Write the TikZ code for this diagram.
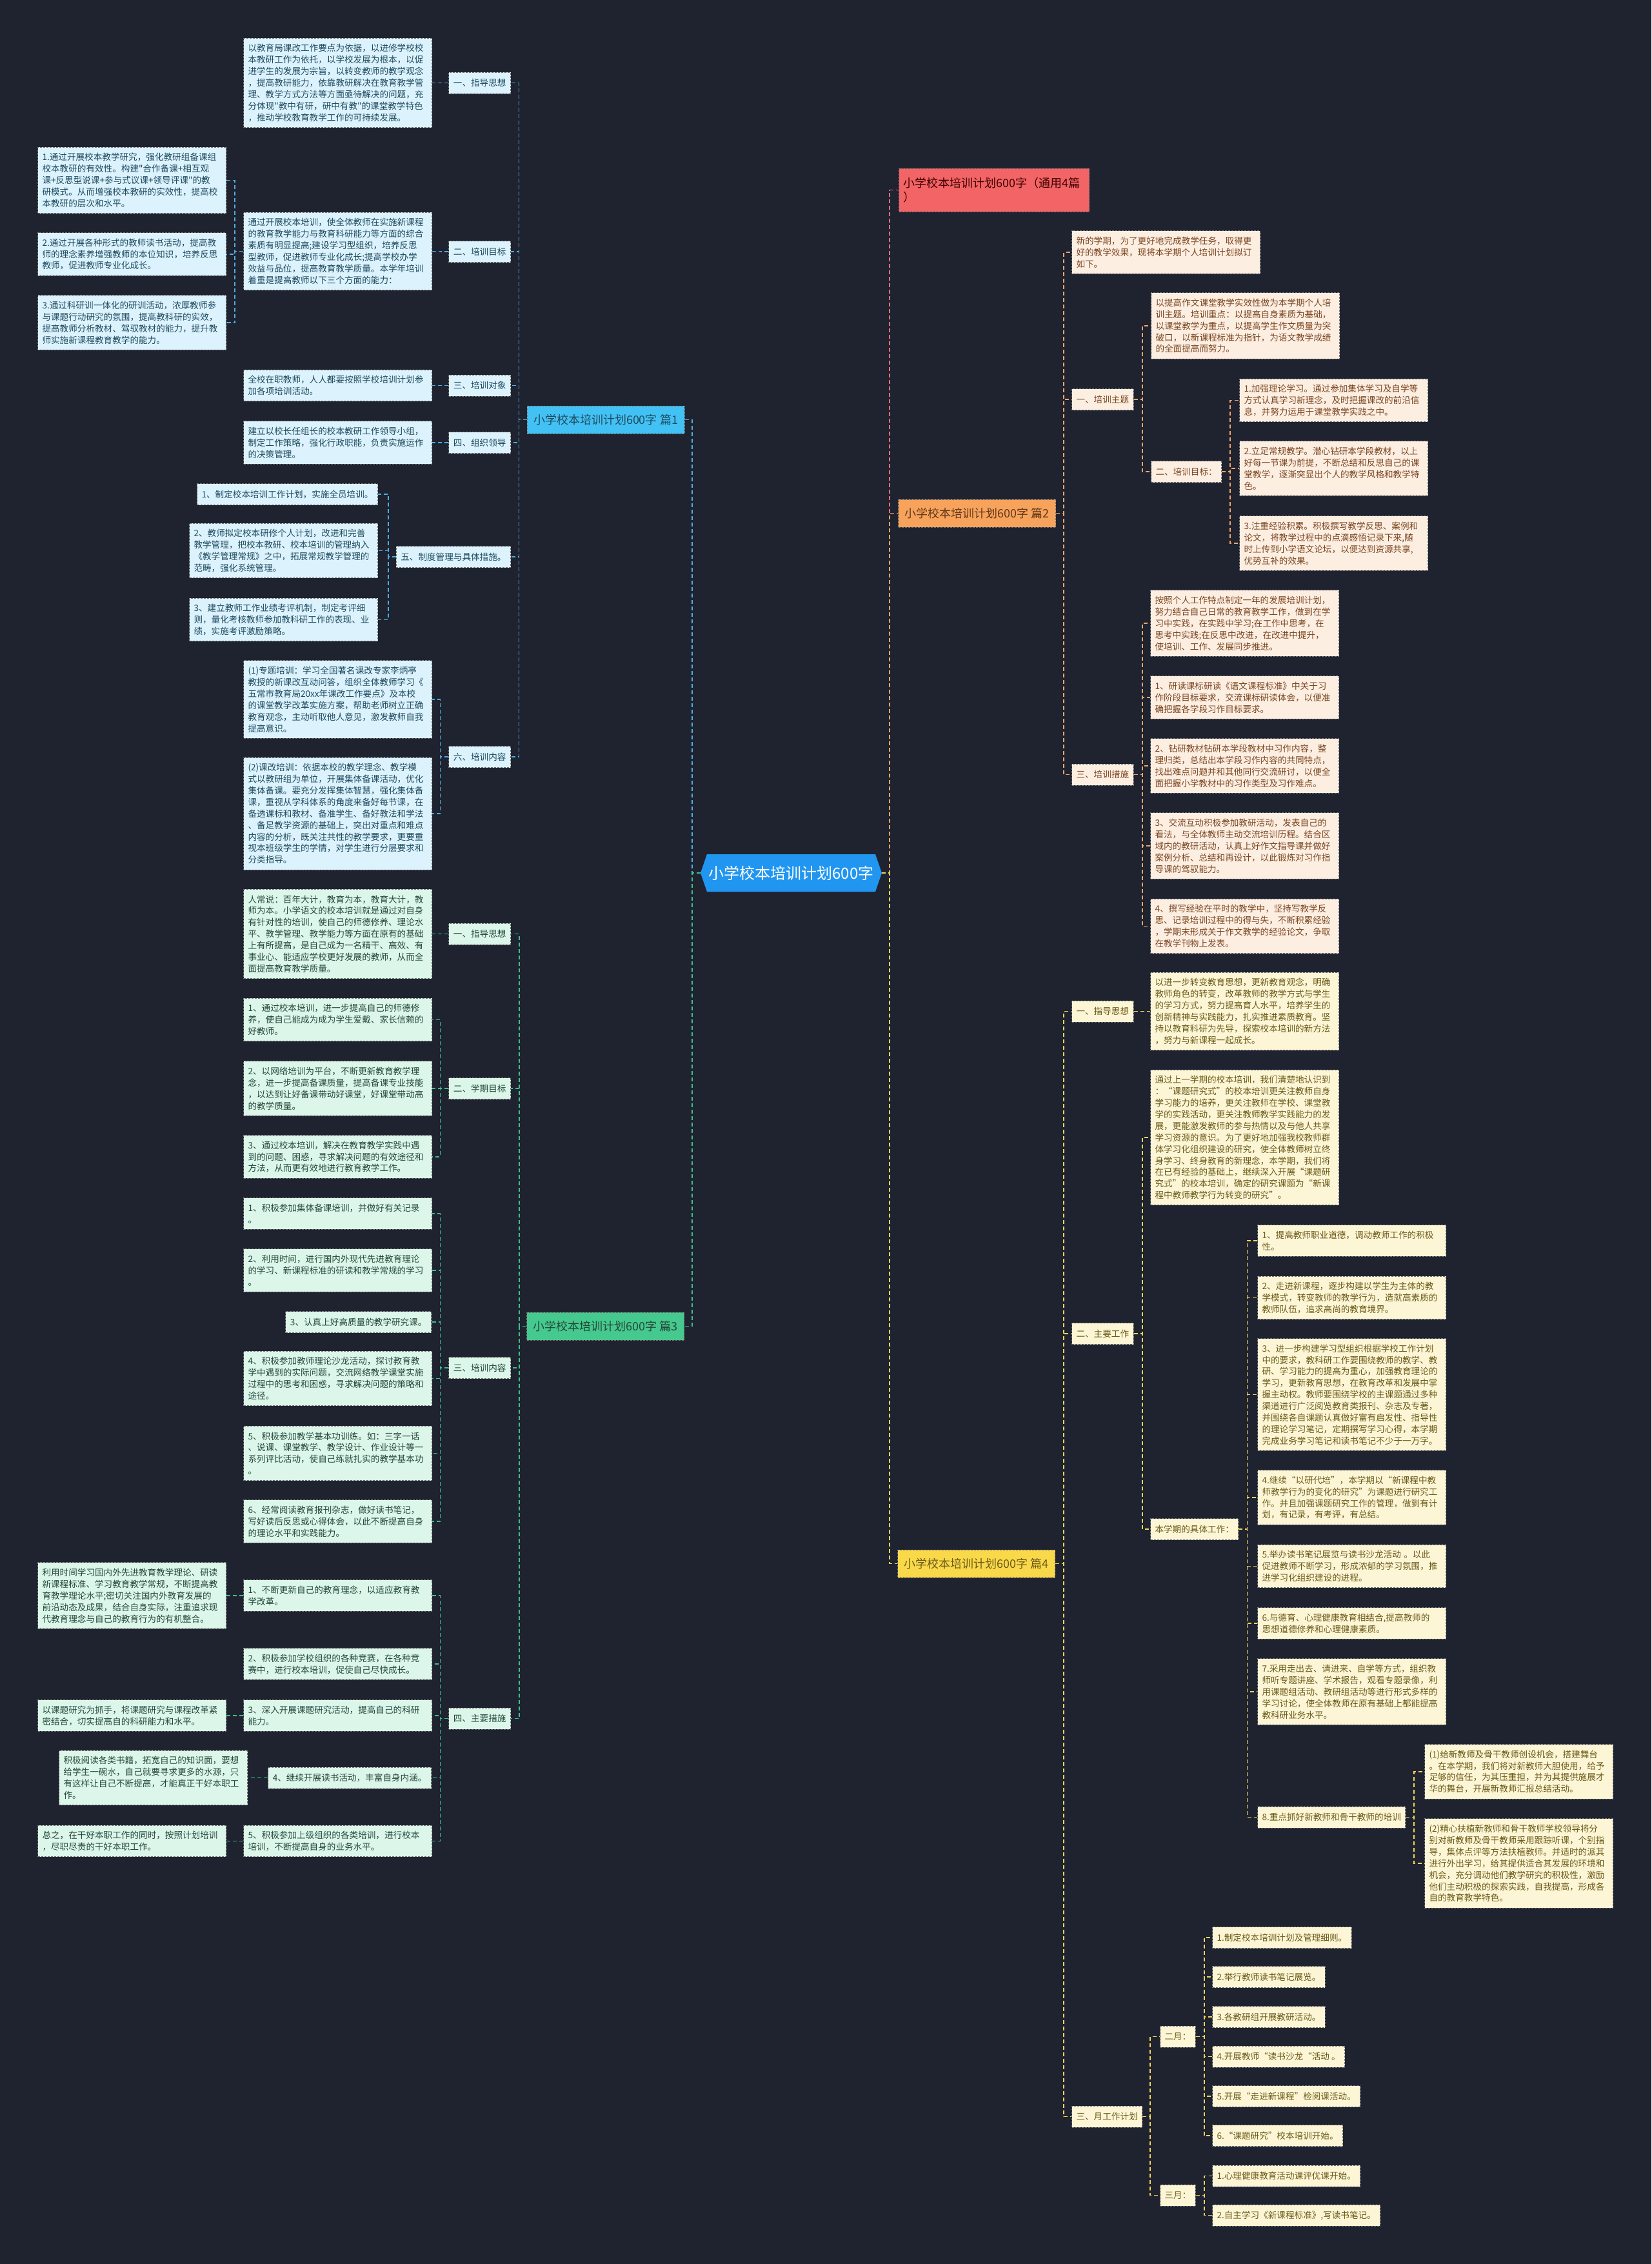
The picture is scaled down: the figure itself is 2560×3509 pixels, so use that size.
\documentclass[tikz,border=0pt]{standalone}
\usepackage{fontspec}
\setmainfont{Noto Sans CJK SC}[Ligatures=TeXOff]
\usetikzlibrary{shapes.symbols}
\definecolor{bgc}{HTML}{1F2330}
\definecolor{bline}{HTML}{4FAEE0}
\definecolor{bfill}{HTML}{DCF3FD}
\definecolor{btext}{HTML}{1F4A60}
\definecolor{bhead}{HTML}{42C2F4}
\definecolor{gline}{HTML}{3CC08A}
\definecolor{gfill}{HTML}{DCF6EA}
\definecolor{gtext}{HTML}{24483A}
\definecolor{ghead}{HTML}{45C98E}
\definecolor{oline}{HTML}{F2A56A}
\definecolor{ofill}{HTML}{FDEEE2}
\definecolor{otext}{HTML}{7A4620}
\definecolor{ohead}{HTML}{F7A35C}
\definecolor{yline}{HTML}{F5D45A}
\definecolor{yfill}{HTML}{FDF6D6}
\definecolor{ytext}{HTML}{6B5A18}
\definecolor{yhead}{HTML}{F9D84A}
\definecolor{rline}{HTML}{F07070}
\definecolor{rhead}{HTML}{F26465}
\definecolor{rootc}{HTML}{2196F0}
\newcommand{\bxfont}{\fontsize{13.6}{17.9}\selectfont}
\tikzset{
  base/.style={draw=black!55, dash pattern=on 3pt off 2pt, line width=1pt, font=\bxfont, inner xsep=7pt, inner ysep=9pt, align=left},
  tb/.style={base, text width=278pt},
  lb/.style={base, minimum height=33pt},
  bl/.style={fill=bfill, text=btext},
  gr/.style={fill=gfill, text=gtext},
  og/.style={fill=ofill, text=otext},
  yl/.style={fill=yfill, text=ytext},
  head/.style={draw=black!55, dash pattern=on 3pt off 2pt, line width=1pt, font=\fontsize{18}{22}\selectfont, inner xsep=7pt, inner ysep=11pt, minimum height=43pt, minimum width=244pt, align=left},
  conn/.style={line width=1.8pt, dash pattern=on 6pt off 4pt},
  cb/.style={conn, draw=bline},
  cg/.style={conn, draw=gline},
  co/.style={conn, draw=oline},
  cy/.style={conn, draw=yline},
  cr/.style={conn, draw=rline},
  rootnode/.style={signal, signal to=east and west, signal pointer angle=142, fill=rootc, text=white, font=\fontsize{24}{28}\selectfont, minimum width=281pt, minimum height=58pt, inner sep=2pt}
}
\begin{document}
\begin{tikzpicture}[x=1pt,y=-1pt]
\fill[bgc] (0,0) rectangle (2560,3509);
\useasboundingbox (0,0) rectangle (2560,3509);

% ---------- root and branch heads ----------
\node[rootnode] (root) at (1226.5,1353) {小学校本培训计划600字};
\node[head, fill=rhead, text=black!75!red, anchor=west, text width=281pt, minimum height=67pt, inner ysep=9pt] (t0) at (1393,294.5) {小学校本培训计划600字（通用4篇\\）};
\node[head, fill=bhead, text=btext] (p1) at (939,650.5) {小学校本培训计划600字 篇1};
\node[head, fill=ohead, text=otext!80!black] (p2) at (1514.5,795.5) {小学校本培训计划600字 篇2};
\node[head, fill=ghead, text=gtext] (p3) at (938.5,2055.5) {小学校本培训计划600字 篇3};
\node[head, fill=yhead, text=ytext] (p4) at (1513.5,2423.5) {小学校本培训计划600字 篇4};

% ---------- 篇1 ----------
\node[lb,bl,anchor=east] (a) at (792,128.5) {一、指导思想};
\node[tb,bl,anchor=west] (a1) at (377,128.5) {以教育局课改工作要点为依据，以进修学校校\\本教研工作为依托，以学校发展为根本，以促\\进学生的发展为宗旨，以转变教师的教学观念\\，提高教研能力，依靠教研解决在教育教学管\\理、教学方式方法等方面亟待解决的问题，充\\分体现"教中有研，研中有教"的课堂教学特色\\，推动学校教育教学工作的可持续发展。};
\node[lb,bl,anchor=east] (b) at (792,390) {二、培训目标};
\node[tb,bl,anchor=west] (b0) at (377,389.5) {通过开展校本培训，使全体教师在实施新课程\\的教育教学能力与教育科研能力等方面的综合\\素质有明显提高;建设学习型组织，培养反思\\型教师，促进教师专业化成长;提高学校办学\\效益与品位，提高教育教学质量。本学年培训\\着重是提高教师以下三个方面的能力：};
\node[tb,bl,anchor=east] (b1) at (351,279.5) {1.通过开展校本教学研究，强化教研组备课组\\校本教研的有效性。构建"合作备课+相互观\\课+反思型说课+参与式议课+领导评课"的教\\研模式。从而增强校本教研的实效性，提高校\\本教研的层次和水平。};
\node[tb,bl,anchor=east] (b2) at (351,394) {2.通过开展各种形式的教师读书活动，提高教\\师的理念素养增强教师的本位知识，培养反思\\教师，促进教师专业化成长。};
\node[tb,bl,anchor=east] (b3) at (351,500) {3.通过科研训一体化的研训活动，浓厚教师参\\与课题行动研究的氛围，提高教科研的实效，\\提高教师分析教材、驾驭教材的能力，提升教\\师实施新课程教育教学的能力。};
\node[lb,bl,anchor=east] (c) at (792,597.5) {三、培训对象};
\node[tb,bl,anchor=west] (c0) at (377,597.5) {全校在职教师，人人都要按照学校培训计划参\\加各项培训活动。};
\node[lb,bl,anchor=east] (d) at (792,686) {四、组织领导};
\node[tb,bl,anchor=west] (d0) at (377,686) {建立以校长任组长的校本教研工作领导小组，\\制定工作策略，强化行政职能，负责实施运作\\的决策管理。};
\node[lb,bl,anchor=east] (e) at (792,863) {五、制度管理与具体措施。};
\node[lb,bl,anchor=east] (e1) at (586,766) {1、制定校本培训工作计划，实施全员培训。};
\node[tb,bl,anchor=east] (e2) at (586,853.5) {2、教师拟定校本研修个人计划，改进和完善\\教学管理，把校本教研、校本培训的管理纳入\\《教学管理常规》之中，拓展常规教学管理的\\范畴，强化系统管理。};
\node[tb,bl,anchor=east] (e3) at (586,960.5) {3、建立教师工作业绩考评机制，制定考评细\\则，量化考核教师参加教科研工作的表现、业\\绩，实施考评激励策略。};
\node[lb,bl,anchor=east] (f) at (792,1173) {六、培训内容};
\node[tb,bl,anchor=west] (f1) at (377,1084) {(1)专题培训：学习全国著名课改专家李炳亭\\教授的新课改互动问答，组织全体教师学习《\\五常市教育局20xx年课改工作要点》及本校\\的课堂教学改革实施方案，帮助老师树立正确\\教育观念，主动听取他人意见，激发教师自我\\提高意识。};
\node[tb,bl,anchor=west] (f2) at (377,1261) {(2)课改培训：依据本校的教学理念、教学模\\式以教研组为单位，开展集体备课活动，优化\\集体备课。要充分发挥集体智慧，强化集体备\\课，重视从学科体系的角度来备好每节课，在\\备透课标和教材、备准学生、备好教法和学法\\、备足教学资源的基础上，突出对重点和难点\\内容的分析，既关注共性的教学要求，更要重\\视本班级学生的学情，对学生进行分层要求和\\分类指导。};

% ---------- 篇3 ----------
\node[lb,gr,anchor=east] (q1) at (792,1447.5) {一、指导思想};
\node[tb,gr,anchor=west] (q1a) at (377,1447.5) {人常说：百年大计，教育为本，教育大计，教\\师为本。小学语文的校本培训就是通过对自身\\有针对性的培训，使自己的师德修养、理论水\\平、教学管理、教学能力等方面在原有的基础\\上有所提高，是自己成为一名精干、高效、有\\事业心、能适应学校更好发展的教师，从而全\\面提高教育教学质量。};
\node[lb,gr,anchor=east] (q2) at (792,1687) {二、学期目标};
\node[tb,gr,anchor=west] (q2a) at (377,1580.5) {1、通过校本培训，进一步提高自己的师德修\\养，使自己能成为成为学生爱戴、家长信赖的\\好教师。};
\node[tb,gr,anchor=west] (q2b) at (377,1687) {2、以网络培训为平台，不断更新教育教学理\\念，进一步提高备课质量，提高备课专业技能\\，以达到让好备课带动好课堂，好课堂带动高\\的教学质量。};
\node[tb,gr,anchor=west] (q2c) at (377,1793) {3、通过校本培训，解决在教育教学实践中遇\\到的问题、困惑，寻求解决问题的有效途径和\\方法，从而更有效地进行教育教学工作。};
\node[lb,gr,anchor=east] (q3) at (792,2120) {三、培训内容};
\node[tb,gr,anchor=west] (q3a) at (377,1881) {1、积极参加集体备课培训，并做好有关记录\\。};
\node[tb,gr,anchor=west] (q3b) at (377,1969) {2、利用时间，进行国内外现代先进教育理论\\的学习、新课程标准的研读和教学常规的学习\\。};
\node[lb,gr,anchor=east] (q3c) at (669,2049) {3、认真上好高质量的教学研究课。};
\node[tb,gr,anchor=west] (q3d) at (377,2136.5) {4、积极参加教师理论沙龙活动，探讨教育教\\学中遇到的实际问题，交流网络教学课堂实施\\过程中的思考和困惑，寻求解决问题的策略和\\途径。};
\node[tb,gr,anchor=west] (q3e) at (377,2252.5) {5、积极参加教学基本功训练。如：三字一话\\、说课、课堂教学、教学设计、作业设计等一\\系列评比活动，使自己练就扎实的教学基本功\\。};
\node[tb,gr,anchor=west] (q3f) at (377,2358) {6、经常阅读教育报刊杂志，做好读书笔记，\\写好读后反思或心得体会，以此不断提高自身\\的理论水平和实践能力。};
\node[lb,gr,anchor=east] (q4) at (792,2663.5) {四、主要措施};
\node[tb,gr,anchor=west] (q4a) at (377,2473) {1、不断更新自己的教育理念，以适应教育教\\学改革。};
\node[tb,gr,anchor=east] (q4a1) at (351,2473) {利用时间学习国内外先进教育教学理论、研读\\新课程标准、学习教育教学常规，不断提高教\\育教学理论水平;密切关注国内外教育发展的\\前沿动态及成果，结合自身实际，注重追求现\\代教育理念与自己的教育行为的有机整合。};
\node[tb,gr,anchor=west] (q4b) at (377,2579) {2、积极参加学校组织的各种竞赛，在各种竞\\赛中，进行校本培训，促使自己尽快成长。};
\node[tb,gr,anchor=west] (q4c) at (377,2659) {3、深入开展课题研究活动，提高自己的科研\\能力。};
\node[tb,gr,anchor=east] (q4c1) at (351,2659) {以课题研究为抓手，将课题研究与课程改革紧\\密结合，切实提高自的科研能力和水平。};
\node[lb,gr,anchor=east] (q4d) at (669,2755.5) {4、继续开展读书活动，丰富自身内涵。};
\node[tb,gr,anchor=east] (q4d1) at (384,2755.5) {积极阅读各类书籍，拓宽自己的知识面，要想\\给学生一碗水，自己就要寻求更多的水源，只\\有这样让自己不断提高，才能真正干好本职工\\作。};
\node[tb,gr,anchor=west] (q4e) at (377,2853.5) {5、积极参加上级组织的各类培训，进行校本\\培训，不断提高自身的业务水平。};
\node[tb,gr,anchor=east] (q4e1) at (351,2853.5) {总之，在干好本职工作的同时，按照计划培训\\，尽职尽责的干好本职工作。};

% ---------- 篇2 ----------
\node[tb,og,anchor=west] (h0) at (1661,391) {新的学期，为了更好地完成教学任务，取得更\\好的教学效果，现将本学期个人培训计划拟订\\如下。};
\node[lb,og,anchor=west] (h1) at (1661,619) {一、培训主题};
\node[tb,og,anchor=west] (h1a) at (1784,505) {以提高作文课堂教学实效性做为本学期个人培\\训主题。培训重点：以提高自身素质为基础，\\以课堂教学为重点，以提高学生作文质量为突\\破口，以新课程标准为指针，为语文教学成绩\\的全面提高而努力。};
\node[lb,og,anchor=west] (h1b) at (1784,731) {二、培训目标：};
\node[tb,og,anchor=west] (h1b1) at (1921,620.5) {1.加强理论学习。通过参加集体学习及自学等\\方式认真学习新理念，及时把握课改的前沿信\\息，并努力运用于课堂教学实践之中。};
\node[tb,og,anchor=west] (h1b2) at (1921,726) {2.立足常规教学。潜心钻研本学段教材，以上\\好每一节课为前提，不断总结和反思自己的课\\堂教学，逐渐突显出个人的教学风格和教学特\\色。};
\node[tb,og,anchor=west] (h1b3) at (1921,842) {3.注重经验积累。积极撰写教学反思、案例和\\论文，将教学过程中的点滴感悟记录下来,随\\时上传到小学语文论坛，以便达到资源共享,\\优势互补的效果。};
\node[lb,og,anchor=west] (h3) at (1661,1200.5) {三、培训措施};
\node[tb,og,anchor=west] (h3a) at (1783,966) {按照个人工作特点制定一年的发展培训计划，\\努力结合自己日常的教育教学工作，做到在学\\习中实践，在实践中学习;在工作中思考，在\\思考中实践;在反思中改进，在改进中提升，\\使培训、工作、发展同步推进。};
\node[tb,og,anchor=west] (h3b) at (1783,1081) {1、研读课标研读《语文课程标准》中关于习\\作阶段目标要求，交流课标研读体会，以便准\\确把握各学段习作目标要求。};
\node[tb,og,anchor=west] (h3c) at (1783,1187) {2、钻研教材钻研本学段教材中习作内容，整\\理归类，总结出本学段习作内容的共同特点，\\找出难点问题并和其他同行交流研讨，以便全\\面把握小学教材中的习作类型及习作难点。};
\node[tb,og,anchor=west] (h3d) at (1783,1311) {3、交流互动积极参加教研活动，发表自己的\\看法，与全体教师主动交流培训历程。结合区\\域内的教研活动，认真上好作文指导课并做好\\案例分析、总结和再设计，以此锻炼对习作指\\导课的驾驭能力。};
\node[tb,og,anchor=west] (h3e) at (1783,1435.5) {4、撰写经验在平时的教学中，坚持写教学反\\思、记录培训过程中的得与失，不断积累经验\\，学期末形成关于作文教学的经验论文，争取\\在教学刊物上发表。};

% ---------- 篇4 ----------
\node[lb,yl,anchor=west] (j) at (1661,1567.5) {一、指导思想};
\node[tb,yl,anchor=west] (j0) at (1783,1567.5) {以进一步转变教育思想，更新教育观念，明确\\教师角色的转变，改革教师的教学方式与学生\\的学习方式，努力提高育人水平，培养学生的\\创新精神与实践能力，扎实推进素质教育。坚\\持以教育科研为先导，探索校本培训的新方法\\，努力与新课程一起成长。};
\node[lb,yl,anchor=west] (k) at (1661,2067) {二、主要工作};
\node[tb,yl,anchor=west] (k0) at (1783,1763) {通过上一学期的校本培训，我们清楚地认识到\\：“课题研究式”的校本培训更关注教师自身\\学习能力的培养，更关注教师在学校、课堂教\\学的实践活动，更关注教师教学实践能力的发\\展，更能激发教师的参与热情以及与他人共享\\学习资源的意识。为了更好地加强我校教师群\\体学习化组织建设的研究，使全体教师树立终\\身学习、终身教育的新理念，本学期，我们将\\在已有经验的基础上，继续深入开展“课题研\\究式”的校本培训，确定的研究课题为“新课\\程中教师教学行为转变的研究”。};
\node[lb,yl,anchor=west] (kk) at (1783,2370) {本学期的具体工作：};
\node[tb,yl,anchor=west] (k1) at (1949,1923) {1、提高教师职业道德，调动教师工作的积极\\性。};
\node[tb,yl,anchor=west] (k2) at (1949,2011.5) {2、走进新课程，逐步构建以学生为主体的教\\学模式，转变教师的教学行为，造就高素质的\\教师队伍，追求高尚的教育境界。};
\node[tb,yl,anchor=west] (k3) at (1949,2161.5) {3、进一步构建学习型组织根据学校工作计划\\中的要求，教科研工作要围绕教师的教学、教\\研、学习能力的提高为重心，加强教育理论的\\学习，更新教育思想，在教育改革和发展中掌\\握主动权。教师要围绕学校的主课题通过多种\\渠道进行广泛阅览教育类报刊、杂志及专著，\\并围绕各自课题认真做好富有启发性、指导性\\的理论学习笔记，定期撰写学习心得，本学期\\完成业务学习笔记和读书笔记不少于一万字。};
\node[tb,yl,anchor=west] (k4) at (1949,2321) {4.继续“以研代培”，本学期以“新课程中教\\师教学行为的变化的研究”为课题进行研究工\\作。并且加强课题研究工作的管理，做到有计\\划，有记录，有考评，有总结。};
\node[tb,yl,anchor=west] (k5) at (1949,2427.5) {5.举办读书笔记展览与读书沙龙活动 。以此\\促进教师不断学习，形成浓郁的学习氛围，推\\进学习化组织建设的进程。};
\node[tb,yl,anchor=west] (k6) at (1949,2516) {6.与德育、心理健康教育相结合,提高教师的\\思想道德修养和心理健康素质。};
\node[tb,yl,anchor=west] (k7) at (1949,2622) {7.采用走出去、请进来、自学等方式，组织教\\师听专题讲座、学术报告，观看专题录像，利\\用课题组活动、教研组活动等进行形式多样的\\学习讨论，使全体教师在原有基础上都能提高\\教科研业务水平。};
\node[lb,yl,anchor=west] (k8) at (1949,2816.5) {8.重点抓好新教师和骨干教师的培训};
\node[tb,yl,anchor=west] (k8a) at (2208,2746) {(1)给新教师及骨干教师创设机会，搭建舞台\\。在本学期，我们将对新教师大胆使用，给予\\足够的信任，为其压重担，并为其提供施展才\\华的舞台，开展新教师汇报总结活动。};
\node[tb,yl,anchor=west] (k8b) at (2208,2888) {(2)精心扶植新教师和骨干教师学校领导将分\\别对新教师及骨干教师采用跟踪听课，个别指\\导，集体点评等方法扶植教师。并适时的派其\\进行外出学习，给其提供适合其发展的环境和\\机会，充分调动他们教学研究的积极性，激励\\他们主动积极的探索实践，自我提高，形成各\\自的教育教学特色。};
\node[lb,yl,anchor=west] (m) at (1661,3280.5) {三、月工作计划};
\node[lb,yl,anchor=west] (m2) at (1798,3156.5) {二月：};
\node[lb,yl,anchor=west] (m21) at (1879,3003) {1.制定校本培训计划及管理细则。};
\node[lb,yl,anchor=west] (m22) at (1879,3064) {2.举行教师读书笔记展览。};
\node[lb,yl,anchor=west] (m23) at (1879,3126) {3.各教研组开展教研活动。};
\node[lb,yl,anchor=west] (m24) at (1879,3187.5) {4.开展教师“读书沙龙“活动 。};
\node[lb,yl,anchor=west] (m25) at (1879,3249) {5.开展“走进新课程”检阅课活动。};
\node[lb,yl,anchor=west] (m26) at (1879,3310) {6.“课题研究”校本培训开始。};
\node[lb,yl,anchor=west] (m3) at (1798,3402.5) {三月：};
\node[lb,yl,anchor=west] (m31) at (1879,3372.5) {1.心理健康教育活动课评优课开始。};
\node[lb,yl,anchor=west] (m32) at (1879,3433.5) {2.自主学习《新课程标准》,写读书笔记。};

% ---------- connectors ----------
\draw[cb] (root.west) -- ++(-13,0) |- (p1.east);
\draw[cg] (root.west) -- ++(-13,0) |- (p3.east);
\draw[cr] (root.east) -- ++(12,0) |- (t0.west);
\draw[co] (root.east) -- ++(12,0) |- (p2.west);
\draw[cy] (root.east) -- ++(12,0) |- (p4.west);

\foreach \n in {a,b,c,d,e,f} \draw[cb] (p1.west) -- ++(-12,0) |- (\n.east);
\draw[cb] (a.west) -- (a1.east);
\foreach \n in {b0} \draw[cb] (b.west) -- ++(-12,0) |- (\n.east);
\foreach \n in {b1,b2,b3} \draw[cb] (b0.west) -- ++(-13,0) |- (\n.east);
\draw[cb] (c.west) -- (c0.east);
\draw[cb] (d.west) -- (d0.east);
\foreach \n in {e1,e2,e3} \draw[cb] (e.west) -- ++(-12,0) |- (\n.east);
\foreach \n in {f1,f2} \draw[cb] (f.west) -- ++(-13,0) |- (\n.east);

\foreach \n in {q1,q2,q3,q4} \draw[cg] (p3.west) -- ++(-11,0) |- (\n.east);
\draw[cg] (q1.west) -- (q1a.east);
\foreach \n in {q2a,q2b,q2c} \draw[cg] (q2.west) -- ++(-13,0) |- (\n.east);
\foreach \n in {q3a,q3b,q3c,q3d,q3e,q3f} \draw[cg] (q3.west) -- ++(-13,0) |- (\n.east);
\foreach \n in {q4a,q4b,q4c,q4d,q4e} \draw[cg] (q4.west) -- ++(-13,0) |- (\n.east);
\draw[cg] (q4a.west) -- (q4a1.east);
\draw[cg] (q4c.west) -- (q4c1.east);
\draw[cg] (q4d.west) -- (q4d1.east);
\draw[cg] (q4e.west) -- (q4e1.east);

\foreach \n in {h0,h1,h3} \draw[co] (p2.east) -- ++(12,0) |- (\n.west);
\foreach \n in {h1a,h1b} \draw[co] (h1.east) -- ++(13,0) |- (\n.west);
\foreach \n in {h1b1,h1b2,h1b3} \draw[co] (h1b.east) -- ++(13,0) |- (\n.west);
\foreach \n in {h3a,h3b,h3c,h3d,h3e} \draw[co] (h3.east) -- ++(13,0) |- (\n.west);

\foreach \n in {j,k,m} \draw[cy] (p4.east) -- ++(13,0) |- (\n.west);
\draw[cy] (j.east) -- (j0.west);
\foreach \n in {k0,kk} \draw[cy] (k.east) -- ++(13,0) |- (\n.west);
\foreach \n in {k1,k2,k3,k4,k5,k6,k7,k8} \draw[cy] (kk.east) -- ++(13,0) |- (\n.west);
\foreach \n in {k8a,k8b} \draw[cy] (k8.east) -- ++(13,0) |- (\n.west);
\foreach \n in {m2,m3} \draw[cy] (m.east) -- ++(12,0) |- (\n.west);
\foreach \n in {m21,m22,m23,m24,m25,m26} \draw[cy] (m2.east) -- ++(13,0) |- (\n.west);
\foreach \n in {m31,m32} \draw[cy] (m3.east) -- ++(13,0) |- (\n.west);
\end{tikzpicture}
\end{document}
